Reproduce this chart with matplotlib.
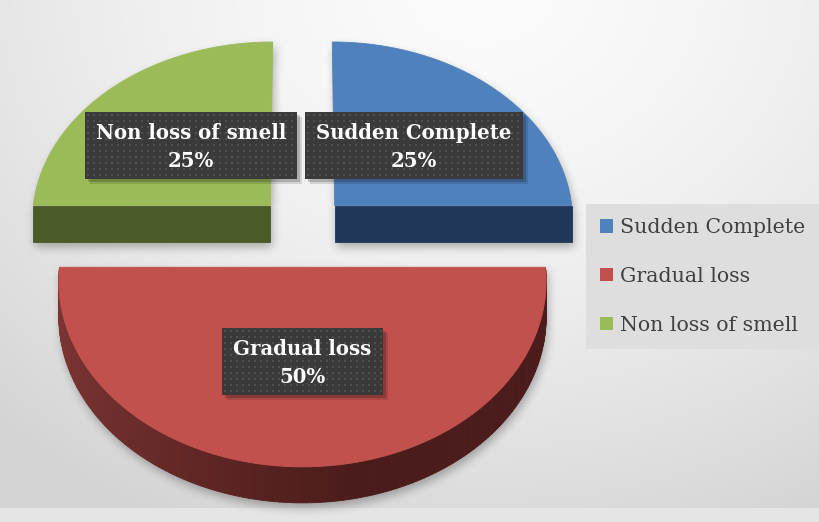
import numpy as np
import matplotlib
matplotlib.use('Agg')
import matplotlib.pyplot as plt
from matplotlib.patches import Polygon, Rectangle, Patch
from matplotlib.collections import PolyCollection
from matplotlib.path import Path
from matplotlib.colors import to_rgb

# data
labels = ['Sudden Complete', 'Gradual loss', 'Non loss of smell']
values = [25, 50, 25]

# styles
top_colors = ['#4F81BD', '#C2514E', '#9BBB59']
side_light = ['#2A4468', '#7D3533', '#55672E']
side_dark = ['#213758', '#4B1C1B', '#4A5A28']
explode = [0.24, 0.17, 0.24]

W, H = 820, 522
CX, CY = 302.5, 236.0
RX, RY = 240.0, 181.6
PERSP = 0.074
DEPTH = 36.0
EX_SCALE = 0.8
LABEL_R = 0.49
SERIF = ['DejaVu Serif']


def proj(X, Z):
    p = 1 - PERSP * Z
    return CX + RX * X * p, CY - RY * Z * p


def box_blur(a, r, n=3):
    k = np.ones(2 * r + 1) / (2 * r + 1)
    for _ in range(n):
        a = np.apply_along_axis(lambda m: np.convolve(m, k, mode='same'), 0, a)
        a = np.apply_along_axis(lambda m: np.convolve(m, k, mode='same'), 1, a)
    return a


fig = plt.figure(figsize=(W / 100, H / 100), dpi=100)
ax = fig.add_axes([0, 0, 1, 1])
ax.set_xlim(0, W)
ax.set_ylim(H, 0)
ax.axis('off')

# background gradient
yy, xx = np.mgrid[0:H, 0:W]
d = np.hypot(xx - 480, (yy + 20) / 0.85)
v = 0.985 - 0.15 * np.clip(d / 700, 0, 1) ** 1.6
v[508:, :] = 0.9
ax.imshow(np.dstack([v, v, v]), extent=(0, W, H, 0), zorder=0, aspect='auto')

total = float(sum(values))
bounds = np.concatenate([[0], np.cumsum(values)]) / total * 2 * np.pi

shadow_polys = []
label_pos = []
for i, lab in enumerate(labels):
    t1, t2 = bounds[i], bounds[i + 1]
    m = (t1 + t2) / 2
    dx = explode[i] * np.sin(m) * EX_SCALE
    dz = explode[i] * np.cos(m)
    th = np.linspace(t1, t2, 181)
    rx, ry = proj(dx + np.sin(th), dz + np.cos(th))
    cx0, cy0 = proj(dx, dz)
    z0 = 2 + i

    # outer rim side (faces viewer where cos < 0)
    vis = np.cos(th) < 1e-6
    quads, cols = [], []
    c1, c2 = np.array(to_rgb(side_light[i])), np.array(to_rgb(side_dark[i]))
    for k in range(len(th) - 1):
        if not (vis[k] and vis[k + 1]):
            continue
        quads.append([(rx[k], ry[k]), (rx[k + 1], ry[k + 1]),
                      (rx[k + 1], ry[k + 1] + DEPTH), (rx[k], ry[k] + DEPTH)])
        u = np.clip((np.sin(th[k]) + 1) / 1.2, 0, 1) ** 0.8
        cols.append(c1 * (1 - u) + c2 * u)
    if quads:
        ax.add_collection(PolyCollection(quads, facecolors=cols, edgecolors=cols,
                                         linewidths=0.6, zorder=z0))
        side_poly = np.vstack([np.column_stack([rx[vis], ry[vis]]),
                               np.column_stack([rx[vis], ry[vis] + DEPTH])[::-1]])
        shadow_polys.append(side_poly)

    # flat cut faces
    for t, sign in ((t1, -1), (t2, 1)):
        if sign * np.sin(t) > 1e-6:
            ex, ey = proj(dx + np.sin(t), dz + np.cos(t))
            face = [(cx0, cy0), (ex, ey), (ex, ey + DEPTH), (cx0, cy0 + DEPTH)]
            ax.add_patch(Polygon(face, closed=True, fc=side_dark[i], ec=side_dark[i],
                                 lw=0.6, zorder=z0))
            shadow_polys.append(np.array(face))

    top = np.vstack([[cx0, cy0], np.column_stack([rx, ry])])
    ax.add_patch(Polygon(top, closed=True, fc=top_colors[i], ec=top_colors[i],
                         lw=0.6, zorder=z0 + 0.5))
    shadow_polys.append(top)

    lx, ly = proj(dx + LABEL_R * np.sin(m), dz + LABEL_R * np.cos(m))
    label_pos.append((lx, ly))

# soft shadow under the pie
pts = np.column_stack([xx.ravel() + 0.5, yy.ravel() + 0.5])
mask = np.zeros(W * H, dtype=bool)
for poly in shadow_polys:
    mask |= Path(poly + np.array([2, 5])).contains_points(pts)
mask = box_blur(mask.reshape(H, W).astype(float), 4)
sh = np.zeros((H, W, 4))
sh[..., :3] = 0.25
sh[..., 3] = mask * 0.4
ax.imshow(sh, extent=(0, W, H, 0), zorder=1, aspect='auto')

# data labels in dark dotted boxes
texts = []
for i, lab in enumerate(labels):
    pct = values[i] / total * 100
    t = ax.text(label_pos[i][0], label_pos[i][1] + 1, '%s\n%.0f%%' % (lab, pct),
                ha='center', va='center', color='white', fontsize=14.2,
                fontweight='bold', family=SERIF, linespacing=1.5, zorder=12)
    texts.append(t)

fig.canvas.draw()
renderer = fig.canvas.get_renderer()
inv = ax.transData.inverted()
for t in texts:
    bb = t.get_window_extent(renderer)
    (x0, y1), (x1, y0) = inv.transform([[bb.x0, bb.y0], [bb.x1, bb.y1]])
    x0, x1 = x0 - 11, x1 + 11
    y0, y1 = y0 - 11, y1 + 8
    for off, al in ((3, 0.18), (5, 0.12)):
        ax.add_patch(Rectangle((x0 + off, y0 + off), x1 - x0, y1 - y0,
                               fc='black', ec='none', alpha=al, zorder=9))
    box = Rectangle((x0, y0), x1 - x0, y1 - y0, fc='#3A3A3A', ec='none', zorder=10)
    ax.add_patch(box)
    gx, gy = np.meshgrid(np.arange(x0 + 3, x1, 6), np.arange(y0 + 3, y1, 6))
    dots = ax.scatter(gx.ravel(), gy.ravel(), s=2.2, marker='s', c='#505050',
                      linewidths=0, zorder=11)
    dots.set_clip_path(box)

# legend
handles = [Patch(facecolor=c, edgecolor='none') for c in top_colors]
leg = ax.legend(handles, labels, loc='upper left', bbox_to_anchor=(586, 204),
                bbox_transform=ax.transData, frameon=True, fancybox=False,
                facecolor='#DEDEDE', edgecolor='none', framealpha=1,
                prop={'family': SERIF, 'size': 14.8}, handlelength=0.65,
                handleheight=0.65, handletextpad=0.3, labelspacing=1.45,
                borderpad=0.68, borderaxespad=0)
for txt in leg.get_texts():
    txt.set_color('#404040')
leg.set_zorder(20)

fig.savefig('out.png', dpi=100)
